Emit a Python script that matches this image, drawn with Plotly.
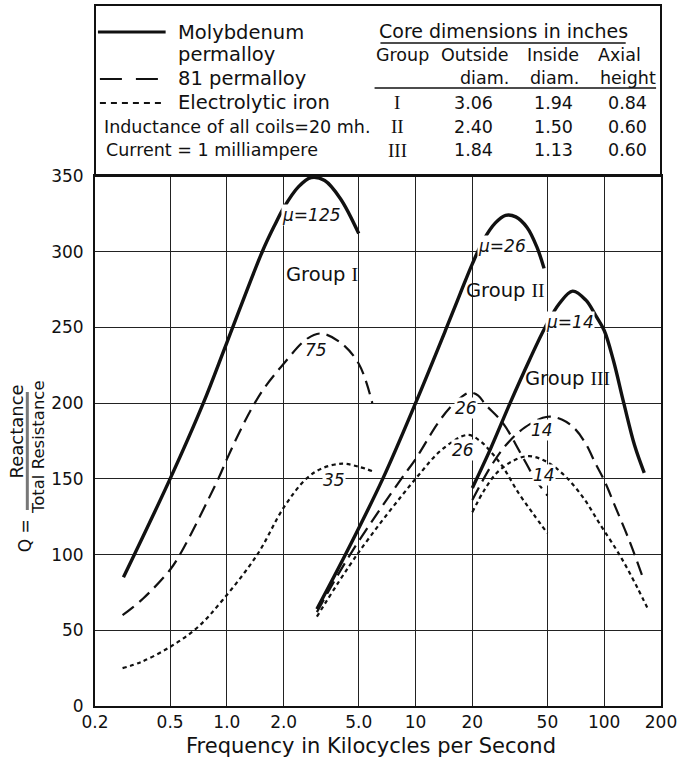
import numpy as np
import plotly.graph_objects as go

# ---------------- data ----------------
# Group I
moly1_f = [0.283, 0.5, 0.75, 1.0, 1.54, 1.8, 2.0, 2.4, 2.8, 3.3, 4.0, 5.0]
moly1_q = [85, 150, 200, 240, 300, 318, 329, 343, 349, 347, 335, 312]
perm1_f = [0.28, 0.36, 0.5, 0.57, 0.9, 1.0, 1.2, 1.39, 1.6, 2.0, 2.63, 3.15, 4.0, 5.0, 5.9]
perm1_q = [60, 71, 90, 101, 150, 163, 184, 199, 211, 226, 242, 246, 240, 226, 200]
iron1_f = [0.28, 0.35, 0.5, 0.7, 0.95, 1.45, 2.0, 2.63, 3.2, 4.1, 5.0, 5.94]
iron1_q = [25, 29, 39, 52, 70, 100, 131, 150, 157, 160, 158, 155]
# Group II
moly2_f = [3.0, 4.25, 6.7, 10, 14.4, 17.2, 20, 23, 26.5, 30, 34, 39, 44, 48]
moly2_q = [64, 100, 150, 200, 248, 272, 292, 308, 319, 324, 323, 316, 303, 289]
perm2_f = [3.0, 4.5, 8.4, 10, 13, 15.2, 17.5, 19.4, 21.5, 23.5, 29, 36, 43, 50]
perm2_q = [62, 100, 150, 163, 186, 197, 204, 207, 205, 199, 187, 167, 150, 139]
iron2_f = [3.0, 4.9, 10, 14, 18.9, 22, 25, 29, 35, 42, 50]
iron2_q = [59, 100, 150, 170, 179, 175, 168, 158, 141, 127, 114]
# Group III
moly3_f = [20, 25, 31.7, 40, 48.6, 58, 68, 80, 90, 100, 112, 127, 145, 163]
moly3_q = [144, 170, 200, 228, 250, 266, 274, 268, 258, 248, 228, 200, 172, 154]
perm3_f = [20, 25, 30, 38, 50, 60, 70, 80, 90, 100, 115, 137, 160]
perm3_q = [136, 158, 172, 184, 191, 189, 183, 173, 160, 149, 131, 108, 85]
iron3_f = [20, 23, 27, 33, 40, 50, 63, 78, 95, 115, 131, 150, 169]
iron3_q = [128, 142, 154, 162, 165, 161, 151, 137, 120, 104, 92, 78, 65]

x_ticks = [0.2, 0.5, 1, 2, 5, 10, 20, 50, 100, 200]
x_ticktext = ["0.2", "0.5", "1.0", "2.0", "5.0", "10", "20", "50", "100", "200"]
y_ticks = [0, 50, 100, 150, 200, 250, 300, 350]

curve_labels = [  # (text, freq, Q)
    ("<i>μ=125</i>", 2.8, 324), ("<i>75</i>", 2.97, 235), ("<i>35</i>", 3.68, 149),
    ("<i>μ=26</i>", 28.7, 304), ("<i>26</i>", 18.4, 197), ("<i>26</i>", 17.8, 169),
    ("<i>μ=14</i>", 66, 253.5), ("<i>14</i>", 47, 182), ("<i>14</i>", 48, 152.5),
]
group_labels = [("Group I", 3.18, 285), ("Group II", 29.9, 274.6), ("Group III", 64, 216.5)]

legend_items = ["Molybdenum", "permalloy", "81 permalloy", "Electrolytic iron"]
note_lines = ["Inductance of all coils=20 mh.", "Current = 1 milliampere"]
table_title = "Core dimensions in inches"
table_head1 = ["Group", "Outside", "Inside", "Axial"]
table_head2 = ["diam.", "diam.", "height"]
table_groups = ["I", "II", "III"]
table_outside = ["3.06", "2.40", "1.84"]
table_inside = ["1.94", "1.50", "1.13"]
table_axial = ["0.84", "0.60", "0.60"]
x_title = "Frequency in Kilocycles per Second"

# ---------------- figure ----------------
W, H = 689, 760
L, R, T, B = 95, 17, 176, 54
FONT = "DejaVu Sans"
SERIF = "Liberation Serif"
INK = "#111111"


def px(x):
    return (x - L) / (W - L - R)


def py(y):
    return (H - B - y) / (H - T - B)


fig = go.Figure()
solid = dict(color=INK, width=3.4)
dashed = dict(color=INK, width=2.2, dash="14px,7px")
dotted = dict(color=INK, width=2.2, dash="4px,3.5px")

for f, q, ln in [
    (moly1_f, moly1_q, solid), (perm1_f, perm1_q, dashed), (iron1_f, iron1_q, dotted),
    (moly2_f, moly2_q, solid), (perm2_f, perm2_q, dashed), (iron2_f, iron2_q, dotted),
    (moly3_f, moly3_q, solid), (perm3_f, perm3_q, dashed), (iron3_f, iron3_q, dotted),
]:
    fig.add_trace(go.Scatter(x=f, y=q, mode="lines", line=dict(shape="spline", smoothing=1.0, **ln),
                             showlegend=False, hoverinfo="skip"))

annotations = []
for t, f, q in curve_labels:
    annotations.append(dict(x=np.log10(f), y=q, xref="x", yref="y", text=t, showarrow=False,
                            font=dict(family=FONT, size=17, color=INK), bgcolor="white", borderpad=0))


def roman(s):
    return f'<span style="font-family:{SERIF}">{s}</span>'


for t, f, q in group_labels:
    word, num = t.split(" ")
    annotations.append(dict(x=np.log10(f), y=q, xref="x", yref="y", text=f"{word} {roman(num)}",
                            showarrow=False, font=dict(family=FONT, size=19.5, color=INK)))


def ptext(text, x, y, size=16, xanchor="center", angle=0, **kw):
    annotations.append(dict(x=px(x), y=py(y), xref="paper", yref="paper", text=text, showarrow=False,
                            xanchor=xanchor, yanchor="middle", textangle=angle,
                            font=dict(family=FONT, size=size, color=INK), **kw))


# legend (left part of the box)
ptext(legend_items[0], 178, 32, 19.5, "left")
ptext(legend_items[1], 178, 55, 19.5, "left")
ptext(legend_items[2], 178, 79, 19.5, "left")
ptext(legend_items[3], 178, 103, 19.5, "left")
ptext(note_lines[0], 102, 127, 17.5, "left")
ptext(note_lines[1], 104, 150, 17.5, "left")

# table
ptext(table_title, 511, 31, 19)
for t, xx in zip(table_head1, [408, 482, 562, 630]):
    ptext(t, xx, 55, 17.5)
for t, xx in zip(table_head2, [492, 563, 638]):
    ptext(t, xx, 78, 17.5)
for i, yy in enumerate([103, 127, 150]):
    ptext(roman(table_groups[i]), 403, yy, 19)
    ptext(table_outside[i], 481, yy, 17.5)
    ptext(table_inside[i], 562, yy, 17.5)
    ptext(table_axial[i], 638, yy, 17.5)

# y-axis title
ptext("Reactance", 14, 432, 18, angle=-90)
ptext("Total Resistance", 37, 447, 16.5, angle=-90)
ptext("Q =", 24, 536, 17, angle=-90)
# x-axis title
ptext(x_title, 376, 746, 21)

shapes = [
    dict(type="rect", xref="paper", yref="paper", x0=px(L), x1=px(W - R), y0=py(T), y1=py(5),
         line=dict(color=INK, width=2)),
    dict(type="line", xref="paper", yref="paper", x0=px(98), x1=px(167), y0=py(32), y1=py(32),
         line=dict(color=INK, width=3)),
    dict(type="line", xref="paper", yref="paper", x0=px(100), x1=px(165), y0=py(79), y1=py(79),
         line=dict(color=INK, width=2.2, dash="22px,14px")),
    dict(type="line", xref="paper", yref="paper", x0=px(100), x1=px(165), y0=py(103), y1=py(103),
         line=dict(color=INK, width=2, dash="6px,5px")),
    dict(type="line", xref="paper", yref="paper", x0=px(386), x1=px(636), y0=py(43), y1=py(43),
         line=dict(color=INK, width=1.5)),
    dict(type="line", xref="paper", yref="paper", x0=px(380), x1=px(667), y0=py(88), y1=py(88),
         line=dict(color=INK, width=1.5)),
    dict(type="line", xref="paper", yref="paper", x0=px(26), x1=px(26), y0=py(392), y1=py(510),
         line=dict(color="#777777", width=3)),
]

fig.update_layout(
    width=W, height=H,
    margin=dict(l=L, r=R, t=T, b=B),
    paper_bgcolor="white", plot_bgcolor="white",
    showlegend=False,
    annotations=annotations, shapes=shapes,
    xaxis=dict(type="log", range=[np.log10(0.2), np.log10(200)], tickvals=x_ticks, ticktext=x_ticktext,
               showgrid=True, gridcolor="#222222", gridwidth=1.4, showline=True, linecolor=INK,
               linewidth=2, mirror=True, ticks="", zeroline=False,
               tickfont=dict(family=FONT, size=17, color=INK)),
    yaxis=dict(range=[0, 350], tickvals=y_ticks, showgrid=True, gridcolor="#222222", gridwidth=1.4,
               showline=True, linecolor=INK, linewidth=2, mirror=True, ticks="", zeroline=False,
               ticklabelstandoff=6, tickfont=dict(family=FONT, size=17, color=INK)),
)

fig.write_html("out.html", config={"displayModeBar": False},
               post_script="document.body.style.margin='0px';")
